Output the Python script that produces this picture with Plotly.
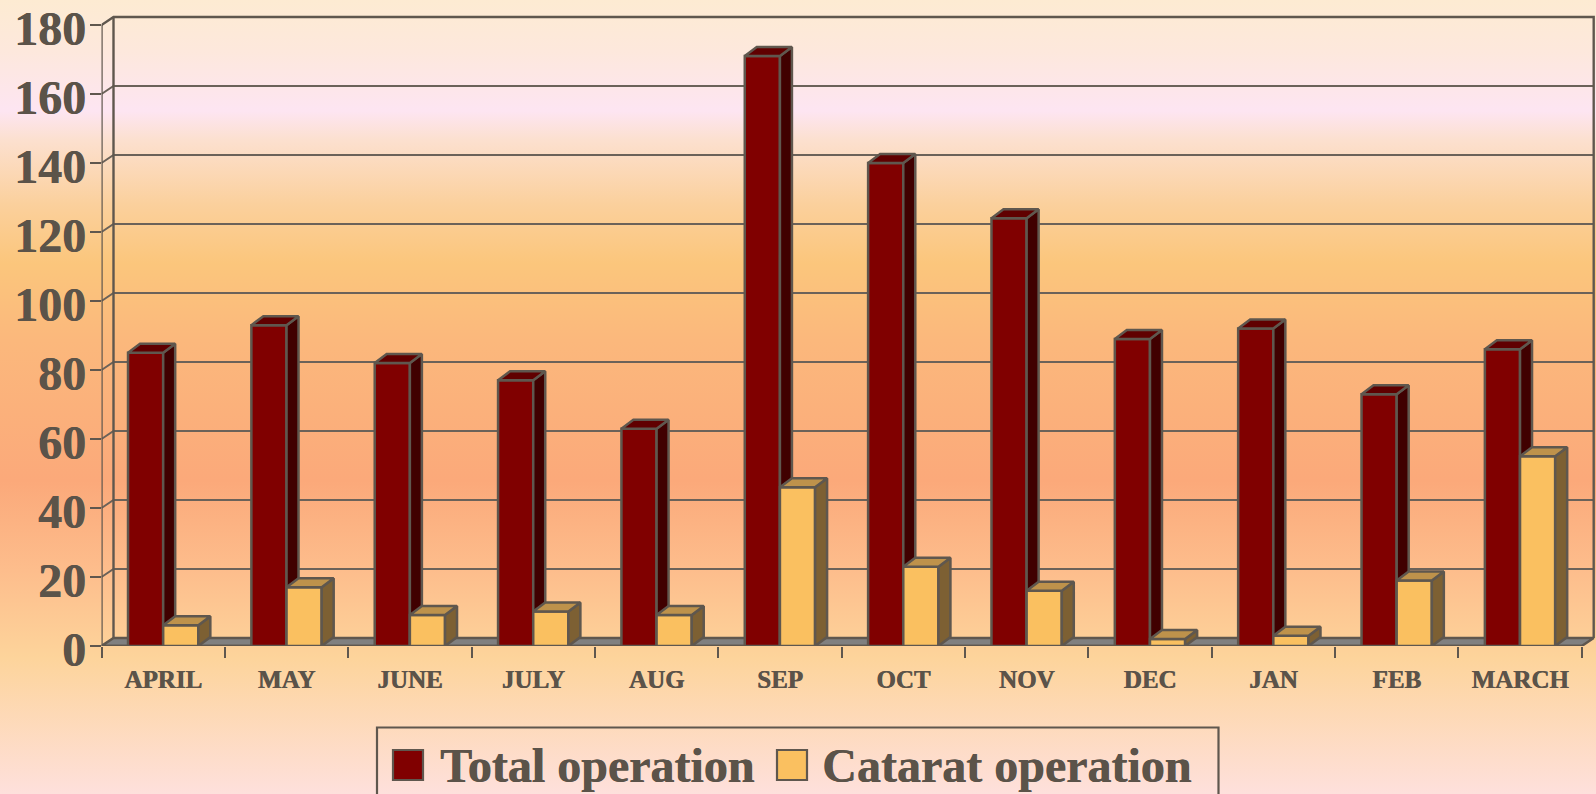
import plotly.graph_objects as go

CATEGORIES = ["APRIL", "MAY", "JUNE", "JULY", "AUG", "SEP", "OCT", "NOV", "DEC", "JAN", "FEB", "MARCH"]
TOTAL = [85, 93, 82, 77, 63, 171, 140, 124, 89, 92, 73, 86]
CATARACT = [6, 17, 9, 10, 9, 46, 23, 16, 2, 3, 19, 55]
Y_TICKS = [0, 20, 40, 60, 80, 100, 120, 140, 160, 180]
SERIES_NAMES = ["Total operation", "Catarat operation"]

W, H = 1596, 794
LEFT, RIGHT, TOP, BOTTOM = 101.5, 1581.7, 25.0, 646.0
N = len(CATEGORIES)
Y_MAX = 180
PX_X = (RIGHT - LEFT) / N
PX_Y = (BOTTOM - TOP) / Y_MAX
WALL_DX, WALL_DY = 12 / PX_X, 8 / PX_Y
BAR_DX, BAR_DY = 12 / PX_X, 9 / PX_Y
BAR_W = 0.285
X_END = N + 0.11          # room for the 3D depth beyond the last category
Y_END = Y_MAX + 6

INK = "#5F574E"
GRID = "#6B6259"
TEXT = "#5B5349"
FONT = "Liberation Serif"
HEAVY = "0.6px 0 0 " + TEXT

GRADIENT = [(0, "#FDEBD2"), (50, "#FDE8DC"), (111, "#FDE5F2"), (140, "#FCE0CF"), (205, "#FBD09C"),
            (263, "#FBC67C"), (340, "#FBB87C"), (481, "#FBA97A"), (570, "#FDBD8C"), (658, "#FDD49B"),
            (794, "#FEE0DC")]

fig = go.Figure()

# Background gradient on a full-page axis pair measured in pixels
fig.add_trace(go.Scatter(
    x=[0, W, W, 0, 0], y=[0, 0, H, H, 0], mode="lines", fill="toself", line=dict(width=0),
    fillgradient=dict(type="vertical", start=0, stop=H,
                      colorscale=[[p / H, c] for p, c in GRADIENT]),
    hoverinfo="skip", showlegend=False, xaxis="x", yaxis="y"))


def polys(shapes):
    xs, ys = [], []
    for s in shapes:
        for px_, py_ in s + [s[0]]:
            xs.append(px_)
            ys.append(py_)
        xs.append(None)
        ys.append(None)
    return xs, ys


def add_poly(shapes, fill, axes, width=2.5):
    xs, ys = polys(shapes)
    fig.add_trace(go.Scatter(x=xs, y=ys, mode="lines", fill="toself", fillcolor=fill,
                             line=dict(color=INK, width=width), cliponaxis=False,
                             hoverinfo="skip", showlegend=False, xaxis=axes[0], yaxis=axes[1]))


def add_line(x, y, width=2.0, color=INK):
    fig.add_trace(go.Scatter(x=x, y=y, mode="lines", line=dict(color=color, width=width), cliponaxis=False,
                             hoverinfo="skip", showlegend=False, xaxis="x2", yaxis="y2"))


# Floor, grid and walls
add_poly([[(0, 0), (N, 0), (N + WALL_DX, WALL_DY), (WALL_DX, WALL_DY)]], "#808080", ("x2", "y2"))
gx, gy = [], []
for v in Y_TICKS[1:-1]:
    gx += [0, WALL_DX, N + WALL_DX, None]
    gy += [v, v + WALL_DY, v + WALL_DY, None]
add_line(gx, gy, 2.0, GRID)
add_line([0, WALL_DX, N + WALL_DX, N + WALL_DX], [Y_MAX, Y_MAX + WALL_DY, Y_MAX + WALL_DY, WALL_DY], 2.4)
add_line([WALL_DX, WALL_DX], [WALL_DY, Y_MAX + WALL_DY], 2.4)
add_line([0, 0, N], [Y_MAX, 0, 0], 2.4)


def add_series(values, name, x0_off, front, side, top, axes):
    centers = [i + 0.5 for i in range(N)]
    lefts = [c + x0_off for c in centers]
    rights = [l + BAR_W for l in lefts]
    fig.add_trace(go.Bar(x=centers, y=values, width=BAR_W, offset=x0_off, name=name,
                         marker=dict(color=front, line=dict(color=INK, width=2.5)),
                         cliponaxis=False, showlegend=False, xaxis=axes[0], yaxis=axes[1]))
    add_poly([[(r, 0), (r + BAR_DX, BAR_DY), (r + BAR_DX, v + BAR_DY), (r, v)]
              for r, v in zip(rights, values)], side, axes)
    add_poly([[(l, v), (l + BAR_DX, v + BAR_DY), (r + BAR_DX, v + BAR_DY), (r, v)]
              for l, r, v in zip(lefts, rights, values)], top, axes)


add_series(TOTAL, SERIES_NAMES[0], -BAR_W, "#800000", "#400000", "#600000", ("x3", "y3"))
add_series(CATARACT, SERIES_NAMES[1], 0, "#FAC060", "#7D6033", "#BE924B", ("x4", "y4"))

dom_x = [LEFT / W, (LEFT + X_END * PX_X) / W]
dom_y = [1 - BOTTOM / H, 1 - (BOTTOM - Y_END * PX_Y) / H]

fig.update_layout(
    width=W, height=H, margin=dict(l=0, r=0, t=0, b=0, pad=0, autoexpand=False),
    paper_bgcolor="rgba(0,0,0,0)", plot_bgcolor="rgba(0,0,0,0)",
    showlegend=False, barmode="overlay",
    xaxis=dict(domain=[0, 1], range=[0, W], visible=False, fixedrange=True),
    yaxis=dict(domain=[0, 1], range=[H, 0], visible=False, fixedrange=True),
    xaxis2=dict(domain=dom_x, range=[0, X_END], anchor="y2", showgrid=False, zeroline=False,
                tickmode="array", tickvals=[i + 0.5 for i in range(N)], ticktext=CATEGORIES,
                ticks="", showline=False, ticklabeloverflow="allow",
                tickfont=dict(family=FONT, size=25, color=TEXT, weight="bold", shadow=HEAVY),
                ticklabelstandoff=16,
                minor=dict(tickmode="array", tickvals=list(range(N + 1)), ticks="outside", ticklen=11,
                           tickwidth=2, tickcolor=INK, showgrid=False)),
    yaxis2=dict(domain=dom_y, range=[0, Y_END], anchor="x2", showgrid=False, zeroline=False,
                tickmode="array", tickvals=Y_TICKS, ticks="outside", ticklen=11, tickwidth=2, tickcolor=INK,
                showline=False, ticklabelstandoff=-6, ticklabelshift=3, ticklabeloverflow="allow",
                tickfont=dict(family=FONT, size=48, color=TEXT, weight="bold", shadow=HEAVY)),
    xaxis3=dict(domain=dom_x, range=[0, X_END], overlaying="x2", anchor="y3", visible=False),
    yaxis3=dict(domain=dom_y, range=[0, Y_END], overlaying="y2", anchor="x3", visible=False),
    xaxis4=dict(domain=dom_x, range=[0, X_END], overlaying="x2", anchor="y4", visible=False),
    yaxis4=dict(domain=dom_y, range=[0, Y_END], overlaying="y2", anchor="x4", visible=False),
)

# Legend
fig.add_shape(type="rect", xref="x", yref="y", x0=377, x1=1218.5, y0=727.5, y1=820,
              line=dict(color=INK, width=2.2), fillcolor="rgba(0,0,0,0)")
for x0, color, label, tx in [(393, "#800000", SERIES_NAMES[0], 437.5), (777, "#FAC060", SERIES_NAMES[1], 820)]:
    fig.add_shape(type="rect", xref="x", yref="y", x0=x0, x1=x0 + 30, y0=750, y1=780,
                  line=dict(color=INK, width=2.2), fillcolor=color)
    fig.add_annotation(xref="x", yref="y", x=tx, y=765, text=label, showarrow=False, xanchor="left",
                       yanchor="middle", font=dict(family=FONT, size=48, color=TEXT, weight="bold", shadow=HEAVY))

fig.write_html("out.html", config=dict(displayModeBar=False),
               post_script="document.body.style.margin='0';document.body.style.overflow='hidden';")
